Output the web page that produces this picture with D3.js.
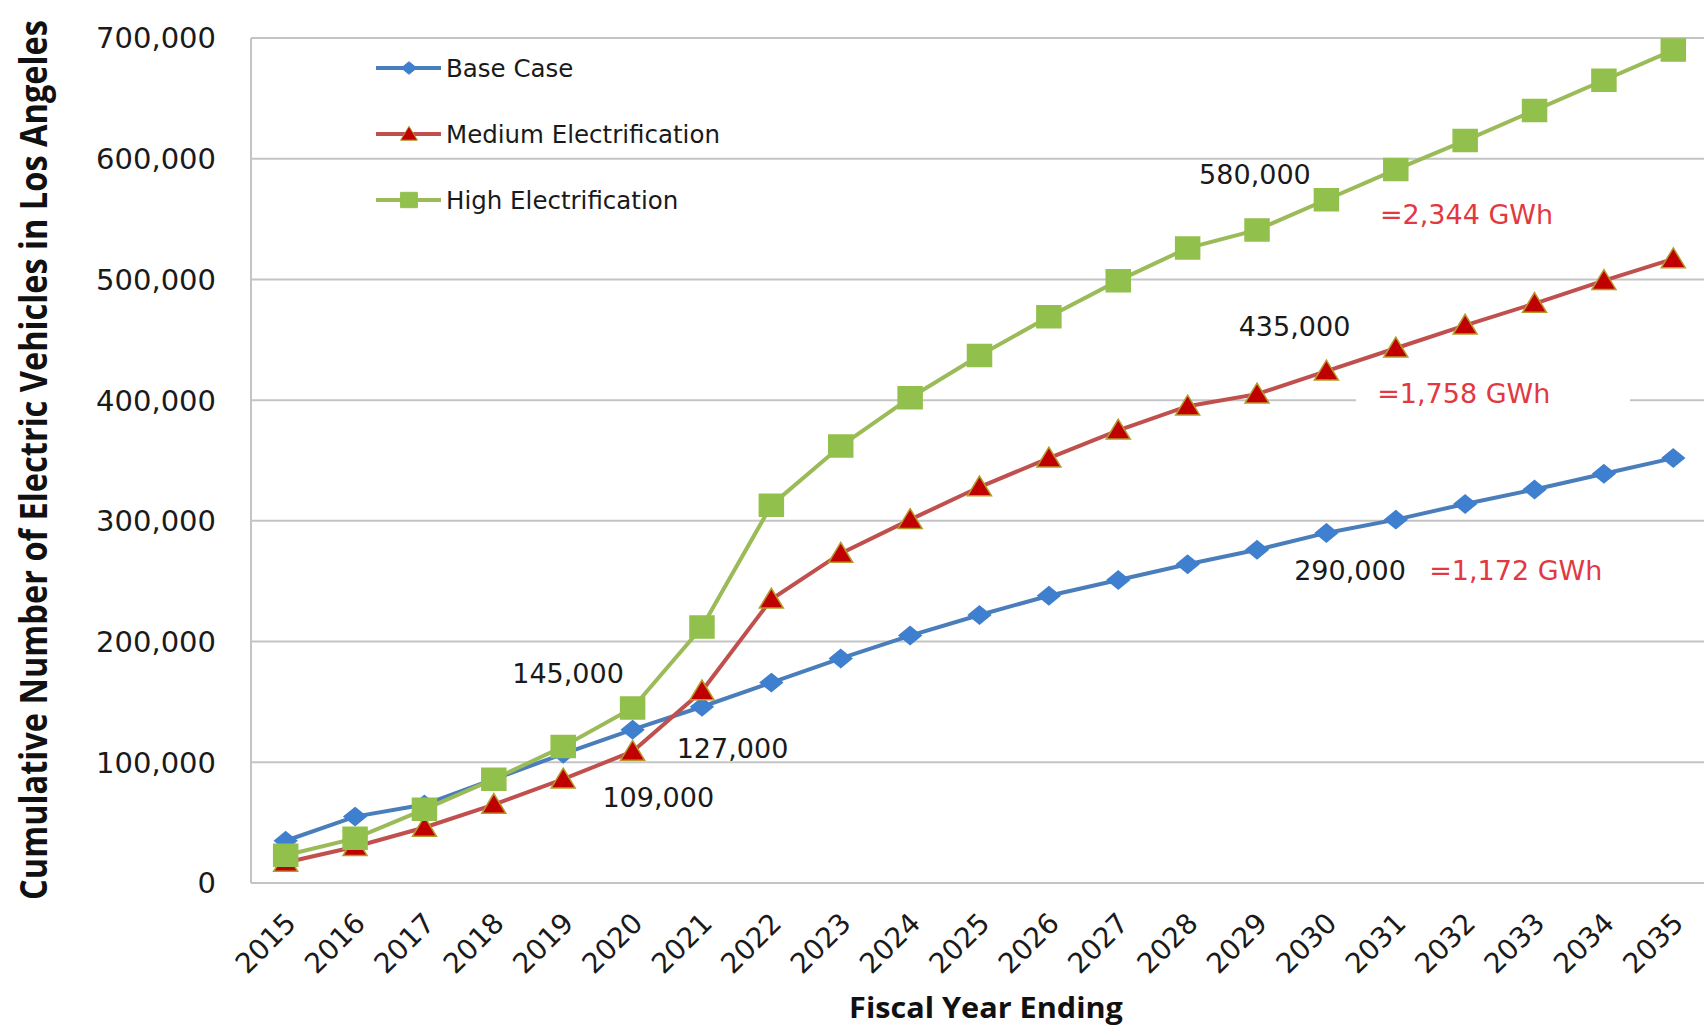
<!DOCTYPE html>
<html>
<head>
<meta charset="utf-8">
<script src="https://cdn.jsdelivr.net/npm/d3@7"></script>
<style>
  html, body { margin: 0; padding: 0; background: #fff; }
  svg { display: block; }
</style>
</head>
<body>
<div id="container"></div>
<script>
// chart values
const years = d3.range(2015, 2036);
const baseCase = [35000, 55000, 65000, 86000, 107000, 127000, 146000, 166000, 186000, 205000,
  222000, 238000, 251000, 264000, 276000, 290000, 301000, 314000, 326000, 339000, 352000];
const mediumElec = [17000, 30000, 46000, 65000, 86000, 109000, 159000, 235000, 273000, 301000,
  328000, 352000, 375000, 395000, 405000, 424000, 443000, 462000, 480000, 499000, 517000];
const highElec = [23000, 37000, 61000, 86000, 113000, 145000, 212000, 313000, 362000, 402000,
  437000, 469000, 499000, 526000, 541000, 566000, 591000, 615000, 640000, 665000, 690000];
const yTicks = [0, 100000, 200000, 300000, 400000, 500000, 600000, 700000];
const seriesNames = ['Base Case', 'Medium Electrification', 'High Electrification'];

// callouts: text, year, value (placed through the scales)
const callouts = [
  ['145,000', 2019.07, 174000, 'black'],
  ['127,000', 2021.44, 112000, 'black'],
  ['109,000', 2020.37, 71000, 'black'],
  ['580,000', 2028.97, 587000, 'black'],
  ['=2,344 GWh', 2032.02, 554000, 'red'],
  ['435,000', 2029.54, 461000, 'black'],
  ['=1,758 GWh', 2031.98, 406000, 'red'],
  ['290,000', 2030.34, 259000, 'black'],
  ['=1,172 GWh', 2032.73, 259000, 'red']
];

const width = 1704, height = 1027;
const plotLeft = 251, plotTop = 38, plotBottom = 883;
const font = "'DejaVu Sans', Verdana, sans-serif";

const svg = d3.select('#container')
  .append('svg')
  .attr('width', width)
  .attr('height', height);

const x = d3.scalePoint().domain(years).range([plotLeft, 1708]).padding(0.5);
const xYear = d3.scaleLinear().domain([2015, 2035]).range([x(2015), x(2035)]);
const y = d3.scaleLinear().domain([0, 700000]).range([plotBottom, plotTop]);

// gridlines
svg.append('g')
  .selectAll('line')
  .data(yTicks)
  .enter()
  .append('line')
  .attr('x1', plotLeft)
  .attr('x2', width)
  .attr('y1', d => y(d))
  .attr('y2', d => y(d))
  .attr('stroke', '#c4c4c4')
  .attr('stroke-width', 2);

svg.append('line')
  .attr('x1', plotLeft).attr('x2', plotLeft)
  .attr('y1', plotTop).attr('y2', plotBottom)
  .attr('stroke', '#c4c4c4')
  .attr('stroke-width', 2);

// y tick labels
svg.append('g')
  .selectAll('text')
  .data(yTicks)
  .enter()
  .append('text')
  .attr('x', 216)
  .attr('y', d => y(d))
  .attr('dy', '0.36em')
  .attr('text-anchor', 'end')
  .attr('font-family', font)
  .attr('font-size', 29)
  .attr('fill', '#1a1a1a')
  .text(d => d3.format(',')(d));

// x tick labels
svg.append('g')
  .selectAll('text')
  .data(years)
  .enter()
  .append('text')
  .attr('transform', d => `translate(${x(d) - 2},${plotBottom + 28}) rotate(-45)`)
  .attr('text-anchor', 'end')
  .attr('dy', '0.7em')
  .attr('font-family', font)
  .attr('font-size', 28)
  .attr('fill', '#1a1a1a')
  .text(d => d);

// axis titles (narrowed with a scale so they keep the reference's length)
const yTitle = svg.append('text')
  .attr('text-anchor', 'middle')
  .attr('font-family', "'Open Sans', sans-serif")
  .attr('font-weight', 'bold')
  .attr('font-size', 37)
  .attr('fill', '#111')
  .text('Cumulative Number of Electric Vehicles in Los Angeles');
const yK = 880 / yTitle.node().getComputedTextLength();
yTitle.attr('transform', `translate(47,460) rotate(-90) scale(${yK},1)`);

const xTitle = svg.append('text')
  .attr('text-anchor', 'middle')
  .attr('font-family', "'Open Sans', sans-serif")
  .attr('font-weight', 'bold')
  .attr('font-size', 28)
  .attr('fill', '#111')
  .text('Fiscal Year Ending');
const xK = 274 / xTitle.node().getComputedTextLength();
xTitle.attr('transform', `translate(986,1018) scale(${xK},1)`);

// white patch behind the 1,758 GWh note
svg.append('rect')
  .attr('x', 1356)
  .attr('y', y(400000) - 18)
  .attr('width', 274)
  .attr('height', 36)
  .attr('fill', '#fff');

// series
const blue = {line: '#4a7ebb', fill: '#3f7fcf', stroke: '#3f7fcf'};
const red = {line: '#c0504d', fill: '#c00000', stroke: '#b59a2a'};
const green = {line: '#9bbb59', fill: '#92c04c', stroke: '#92c04c'};

const diamond = (cx, cy, w, h) => `M${cx},${cy - h}L${cx + w},${cy}L${cx},${cy + h}L${cx - w},${cy}Z`;
const triangle = (cx, cy, w, h) => `M${cx},${cy - h}L${cx + w},${cy + h * 0.8}L${cx - w},${cy + h * 0.8}Z`;
const square = (cx, cy, w, h) => `M${cx - w},${cy - h}H${cx + w}V${cy + h}H${cx - w}Z`;

const series = [
  {name: seriesNames[0], values: baseCase, col: blue, shape: diamond, w: 11, h: 9},
  {name: seriesNames[1], values: mediumElec, col: red, shape: triangle, w: 12, h: 11},
  {name: seriesNames[2], values: highElec, col: green, shape: square, w: 12, h: 11}
];

const lineGenerator = d3.line()
  .x((d, i) => x(years[i]))
  .y(d => y(d));

series.forEach(s => {
  svg.append('path')
    .attr('d', lineGenerator(s.values))
    .attr('fill', 'none')
    .attr('stroke', s.col.line)
    .attr('stroke-width', 4);
});

series.forEach(s => {
  svg.append('g')
    .selectAll('path')
    .data(s.values)
    .enter()
    .append('path')
    .attr('d', (d, i) => s.shape(x(years[i]), y(d), s.w, s.h))
    .attr('fill', s.col.fill)
    .attr('stroke', s.col.stroke)
    .attr('stroke-width', 1.5);
});

// legend
const legend = svg.append('g');
series.forEach((s, i) => {
  const ly = 68 + i * 66;
  legend.append('line')
    .attr('x1', 376).attr('x2', 441)
    .attr('y1', ly).attr('y2', ly)
    .attr('stroke', s.col.line)
    .attr('stroke-width', 4);
  legend.append('path')
    .attr('d', s.shape(409, ly, s.w * 0.7, s.h * 0.7))
    .attr('fill', s.col.fill)
    .attr('stroke', s.col.stroke)
    .attr('stroke-width', 1);
  legend.append('text')
    .attr('x', 446)
    .attr('y', ly)
    .attr('dy', '0.36em')
    .attr('font-family', font)
    .attr('font-size', 24.5)
    .attr('fill', '#1a1a1a')
    .text(s.name);
});

// callouts
svg.append('g')
  .selectAll('text')
  .data(callouts)
  .enter()
  .append('text')
  .attr('x', d => xYear(d[1]))
  .attr('y', d => y(d[2]))
  .attr('dy', '0.36em')
  .attr('text-anchor', 'middle')
  .attr('font-family', font)
  .attr('font-size', 27)
  .attr('fill', d => d[3] == 'red' ? '#e2383f' : '#1a1a1a')
  .text(d => d[0]);
</script>
</body>
</html>
